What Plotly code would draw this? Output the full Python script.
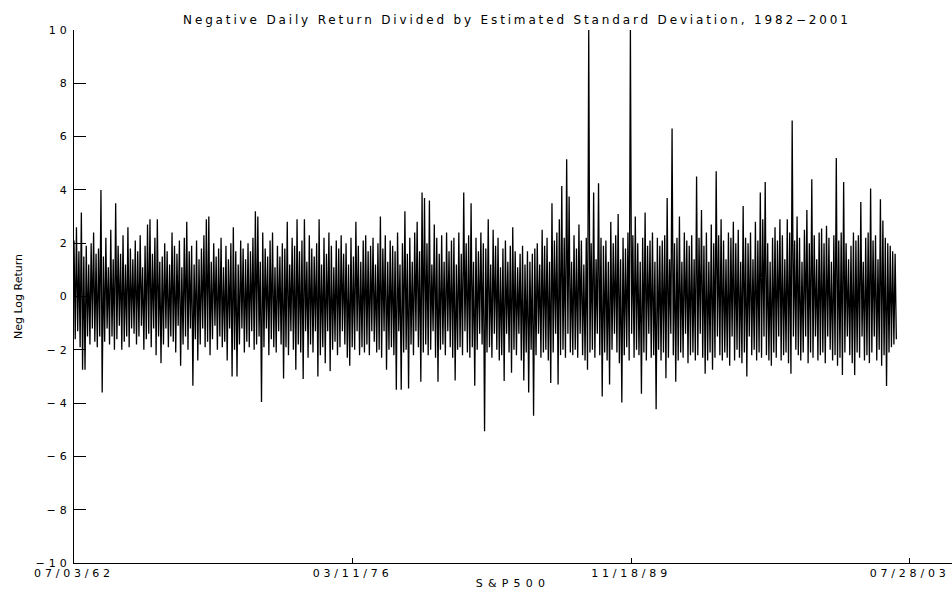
import pandas as pd
import plotly.graph_objects as go

# ---------------- data ----------------
title_text = "Negative Daily Return Divided by Estimated Standard Deviation, 1982\u22122001"
x_label = "S&P500"
y_label = "Neg Log Return"

start_date = "1962-07-03"          # first observation / left end of the axis
sample_step_days = 22              # spacing of the plotted samples
tick_day_offsets = [0, 5000, 10000, 15000]   # x ticks: 07/03/62, 03/11/76, 11/18/89, 07/28/03
axis_span_days = 15761             # visible x range of the axis
y_ticks = [-10, -8, -6, -4, -2, 0, 2, 4, 6, 8, 10]

# upper extreme of the return in each successive sample window
upper_values = [
    2.1, 2.6, 1.7, 3.15, 1.5, 1.9, 1.2, 2.0, 2.4, 1.6, 1.8, 4.0,
    1.5, 2.2, 1.1, 2.5, 1.4, 3.5, 1.9, 1.6, 2.3, 1.2, 2.6, 1.8,
    1.4, 2.1, 1.7, 2.3, 1.1, 1.9, 2.7, 2.9, 1.6, 2.2, 2.9, 1.3,
    1.5, 2.0, 1.7, 1.2, 2.4, 1.9, 1.6, 2.1, 1.1, 2.2, 2.8, 1.7,
    1.9, 1.2, 2.1, 1.4, 1.8, 2.3, 2.9, 3.0, 1.3, 2.0, 1.5, 1.8,
    2.2, 1.1, 1.9, 1.4, 2.0, 2.6, 1.7, 1.2, 2.1, 1.8, 1.4, 2.0,
    1.7, 2.2, 3.2, 3.0, 1.3, 2.4, 1.8, 1.5, 2.1, 2.4, 1.1, 1.9,
    1.5, 2.0, 1.8, 2.8, 1.2, 2.2, 1.9, 2.9, 1.7, 2.1, 2.9, 1.3,
    2.3, 1.8, 1.5, 2.0, 2.9, 1.2, 2.2, 1.6, 2.4, 1.9, 1.1, 2.1,
    1.8, 2.3, 1.6, 2.0, 1.2, 2.2, 1.5, 2.8, 1.9, 1.3, 2.1, 2.3,
    1.7, 1.9, 2.2, 1.2, 2.0, 3.0, 1.8, 2.3, 1.3, 2.1, 1.9, 1.7,
    2.4, 1.2, 2.0, 3.2, 1.6, 2.2, 1.3, 2.4, 2.8, 1.7, 3.9, 3.7,
    2.0, 3.6, 1.2, 2.7, 2.2, 1.6, 2.3, 1.3, 2.4, 1.7, 2.1, 2.2,
    1.2, 2.4, 1.6, 3.9, 2.0, 2.3, 3.5, 1.3, 2.2, 1.7, 2.4, 2.0,
    1.8, 2.9, 1.2, 2.5, 1.9, 2.2, 1.1, 1.8, 2.1, 1.3, 1.9, 2.6,
    1.7, 1.1, 1.6, 1.9, 1.2, 1.7, 1.3, 1.6, 1.8, 2.0, 1.2, 2.5,
    1.9, 2.2, 1.3, 3.5, 2.1, 2.4, 2.9, 4.15, 2.2, 5.15, 3.75, 1.3,
    2.3, 1.8, 2.7, 2.1, 1.2, 2.2, 10.0, 2.0, 3.9, 1.4, 4.25, 2.2,
    1.9, 2.1, 1.3, 2.8, 2.0, 2.3, 3.1, 1.4, 2.2, 1.8, 2.4, 10.0,
    2.3, 3.0, 2.0, 1.3, 2.2, 3.15, 1.9, 2.1, 2.4, 1.3, 2.2, 1.9,
    2.1, 2.3, 3.7, 1.4, 6.3, 2.0, 2.2, 3.0, 1.3, 2.4, 2.1, 1.9,
    2.3, 1.4, 4.5, 2.2, 3.25, 1.9, 2.4, 1.3, 2.7, 2.0, 4.7, 2.3,
    2.9, 2.1, 1.4, 2.4, 2.2, 2.8, 2.0, 2.5, 1.3, 3.4, 2.2, 2.0,
    2.4, 1.4, 2.8, 2.1, 3.9, 2.9, 4.3, 2.0, 1.3, 2.2, 2.6, 2.1,
    2.9, 2.3, 1.4, 2.9, 2.4, 6.6, 2.1, 3.0, 2.2, 1.3, 2.5, 3.25,
    2.0, 4.4, 2.3, 1.4, 2.4, 2.55, 2.0, 2.65, 2.2, 1.3, 2.3, 5.2,
    2.1, 2.4, 4.3, 2.0, 1.4, 1.9, 2.4, 2.1, 2.3, 3.55, 1.3, 2.2,
    2.4, 4.05, 2.1, 2.3, 1.4, 3.65, 2.85, 2.2, 2.0, 1.9, 1.7, 1.6,
]

# lower extreme of the return in each successive sample window
lower_values = [
    -1.6, -1.3, -1.9, -2.75, -2.75, -1.5, -1.8, -1.2, -1.7, -1.9, -1.5, -3.6,
    -1.7, -1.2, -1.8, -1.5, -2.0, -1.6, -1.1, -2.0, -1.7, -1.5, -1.9, -1.2,
    -1.4, -1.8, -1.5, -1.1, -2.0, -1.6, -1.4, -1.9, -1.2, -2.2, -1.5, -2.5,
    -1.8, -1.2, -1.9, -1.5, -1.7, -2.1, -1.1, -2.6, -1.8, -1.5, -2.0, -1.2,
    -3.35, -1.6, -2.4, -1.8, -1.2, -1.9, -1.7, -2.2, -1.6, -1.1, -2.0, -1.5,
    -1.9, -1.7, -2.4, -1.2, -3.0, -2.0, -3.0, -1.8, -1.2, -2.1, -1.7, -1.9,
    -1.3, -2.0, -1.8, -1.5, -3.96, -1.9, -1.2, -2.2, -1.6, -1.9, -2.1, -1.3,
    -1.8, -3.08, -1.9, -2.2, -1.3, -2.0, -2.75, -1.8, -2.1, -3.1, -1.3, -2.3,
    -1.8, -2.1, -1.3, -3.0, -2.2, -1.9, -2.5, -1.3, -2.8, -2.0, -1.7, -2.2,
    -1.9, -1.3, -1.8, -2.3, -2.6, -1.9, -2.0, -1.3, -2.2, -1.9, -2.1, -1.8,
    -2.2, -1.3, -1.7, -2.1, -2.0, -2.3, -1.3, -2.75, -2.0, -1.9, -2.2, -3.5,
    -1.3, -3.5, -2.1, -2.0, -3.45, -1.8, -2.2, -1.3, -1.9, -3.2, -2.1, -1.8,
    -2.2, -2.0, -1.3, -2.3, -3.2, -2.0, -1.8, -2.2, -1.3, -1.9, -2.3, -3.15,
    -2.0, -1.9, -2.2, -1.3, -2.1, -2.3, -1.9, -3.35, -2.0, -1.4, -1.8, -5.06,
    -2.1, -1.9, -2.3, -1.4, -2.0, -2.4, -2.2, -3.17, -1.4, -2.1, -2.86, -2.0,
    -2.2, -1.4, -2.4, -3.15, -2.1, -3.6, -2.0, -4.47, -2.2, -1.4, -2.3, -2.1,
    -2.0, -2.4, -3.25, -2.1, -1.4, -3.3, -2.2, -2.0, -2.3, -1.4, -2.1, -2.2,
    -2.0, -2.3, -1.4, -2.2, -2.4, -2.75, -2.1, -2.0, -2.3, -1.4, -2.2, -3.75,
    -2.1, -2.4, -3.3, -2.0, -1.4, -2.1, -2.5, -3.98, -2.2, -1.9, -2.4, -1.4,
    -2.3, -2.0, -2.2, -3.65, -2.1, -2.4, -1.4, -2.3, -2.2, -4.23, -2.0, -2.4,
    -2.1, -3.07, -2.3, -1.4, -2.2, -3.2, -2.4, -2.1, -2.3, -1.4, -2.5, -2.2,
    -2.1, -2.4, -2.2, -1.4, -2.3, -2.9, -2.4, -2.1, -2.75, -2.3, -1.5, -2.2,
    -2.4, -2.1, -2.3, -2.6, -1.5, -2.4, -2.0, -2.3, -2.5, -2.1, -3.0, -1.5,
    -2.2, -2.0, -2.4, -2.1, -2.3, -1.5, -2.2, -2.4, -2.6, -2.1, -2.3, -1.5,
    -2.4, -2.2, -2.1, -2.5, -2.9, -1.5, -2.0, -2.2, -2.4, -2.1, -1.5, -2.5,
    -2.1, -2.3, -1.5, -2.4, -2.2, -2.1, -2.5, -1.5, -2.0, -2.4, -2.2, -2.6,
    -2.3, -2.95, -2.1, -1.5, -2.2, -2.5, -2.95, -2.1, -2.3, -1.5, -2.4, -2.2,
    -2.5, -2.1, -1.5, -2.4, -2.0, -2.6, -2.2, -3.36, -2.1, -1.9, -1.8, -1.6,
]

# ---------------- build the series ----------------
series = []
for hi, lo in zip(upper_values, lower_values):
    series.append(hi)
    series.append(lo)

start = pd.Timestamp(start_date)
dates = [start + pd.Timedelta(days=sample_step_days * i) for i in range(len(series))]
tick_dates = [start + pd.Timedelta(days=d) for d in tick_day_offsets]
x_end = start + pd.Timedelta(days=axis_span_days)

FONT = "DejaVu Sans, Liberation Sans, Arial, sans-serif"

fig = go.Figure()
fig.add_trace(go.Scatter(
    x=dates, y=series, mode="lines",
    line=dict(color="black", width=1.3, simplify=False),
    hoverinfo="skip", showlegend=False,
))

fig.update_layout(
    width=952, height=590,
    margin=dict(l=74, r=0, t=30, b=27, pad=0),
    paper_bgcolor="white", plot_bgcolor="white",
    font=dict(family=FONT, size=11, color="black"),
    title=dict(text=title_text, x=0.543, xanchor="center", xref="container",
               y=1 - 20 / 590, yanchor="middle", yref="container",
               font=dict(family=FONT, size=12, color="black")),
    xaxis=dict(
        type="date", range=[start, x_end],
        tickmode="array", tickvals=tick_dates, tickformat="%m/%d/%y",
        ticks="inside", ticklen=5, tickwidth=1, tickcolor="black",
        showline=True, linecolor="black", linewidth=1,
        showgrid=False, zeroline=False, mirror=False,
        tickfont=dict(family=FONT, size=11, color="black"),
        title=dict(text=x_label, standoff=2, font=dict(family=FONT, size=11, color="black")),
        automargin=False,
    ),
    yaxis=dict(
        range=[-10, 10], tickmode="array", tickvals=y_ticks,
        ticks="inside", ticklen=12, tickwidth=1, tickcolor="black",
        showline=True, linecolor="black", linewidth=1,
        showgrid=False, zeroline=False, mirror=False,
        tickfont=dict(family=FONT, size=11, color="black"),
        title=dict(text=y_label, standoff=22, font=dict(family=FONT, size=11, color="black")),
        automargin=False,
    ),
)

post_js = """
document.body.style.margin = '0';
var gd = document.getElementById('{plot_id}');
function spacing(sel, v) {
  gd.querySelectorAll(sel).forEach(function (el) { el.style.letterSpacing = v; });
}
spacing('text.gtitle', '2.85px');
spacing('g.xtick > text', '3.8px');
spacing('g.ytick > text', '4px');
spacing('text.xtitle', '5.2px');
"""

fig.write_html("out.html", post_script=post_js, config={"displayModeBar": False})
